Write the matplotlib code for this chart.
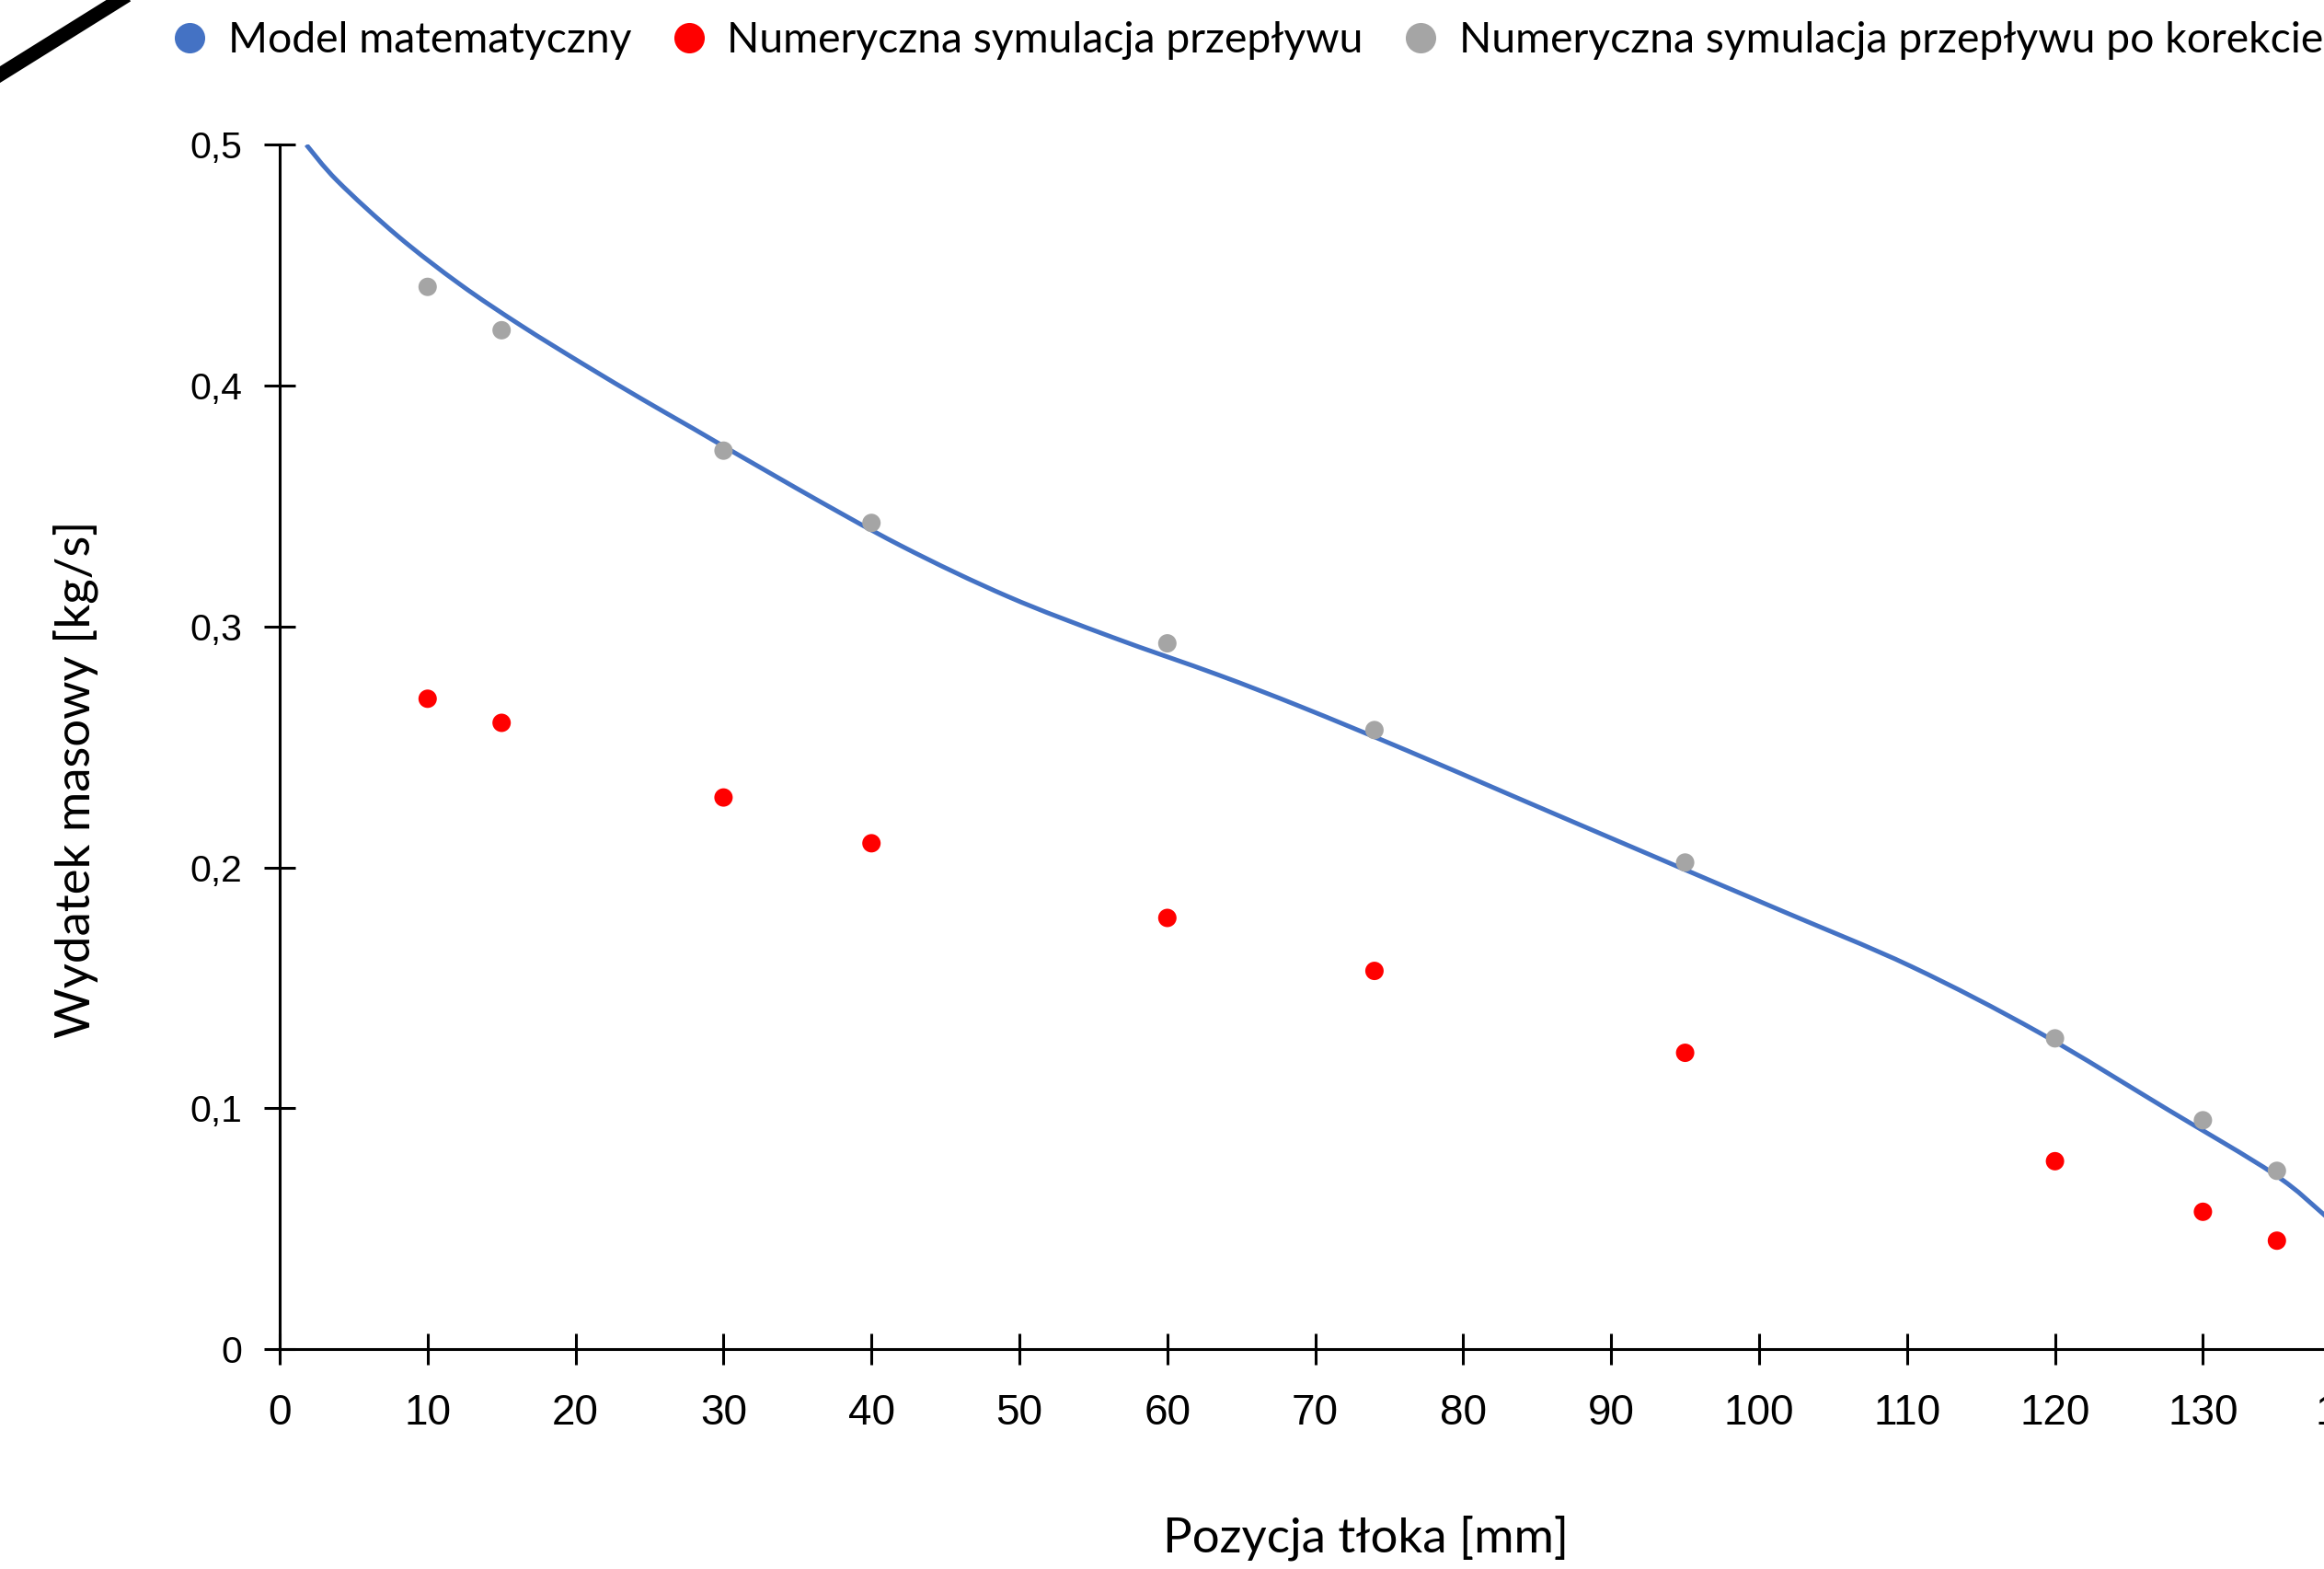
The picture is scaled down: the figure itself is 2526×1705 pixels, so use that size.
import matplotlib
matplotlib.use("Agg")
import matplotlib.pyplot as plt
from matplotlib.lines import Line2D
from matplotlib.path import Path
from matplotlib.patches import PathPatch

W, H, DPI = 2526, 1705, 100

# ---- data ----
model_x = [1.8, 3.9, 8.0, 12.2, 16.3, 20.5, 24.6, 28.0, 34.9, 42.0, 49.2, 56.3,
           63.4, 69.1, 76.2, 83.4, 90.5, 97.6, 101.7, 110.3, 118.9, 127.6, 134.8, 138.2, 139.5]
model_y = [0.500, 0.485, 0.462, 0.442, 0.425, 0.409, 0.394, 0.382, 0.3575, 0.3335, 0.3125, 0.2955,
           0.2800, 0.2665, 0.2485, 0.2295, 0.2108, 0.1922, 0.1815, 0.1588, 0.1315, 0.0995, 0.0727, 0.0557, 0.0485]

sim_x = [10, 15, 30, 40, 60, 74, 95, 120, 130, 135]
sim_y = [0.270, 0.260, 0.229, 0.210, 0.179, 0.157, 0.123, 0.078, 0.057, 0.045]
corr_y = [0.441, 0.423, 0.373, 0.343, 0.293, 0.257, 0.202, 0.129, 0.095, 0.074]

series_labels = ["Model matematyczny", "Numeryczna symulacja przepływu",
                 "Numeryczna symulacja przepływu po korekcie"]
xticks = [0, 10, 20, 30, 40, 50, 60, 70, 80, 90, 100, 110, 120, 130, 140]
yticks = [0, 0.1, 0.2, 0.3, 0.4, 0.5]
ytick_labels = ["0", "0,1", "0,2", "0,3", "0,4", "0,5"]
xlabel = "Pozycja tłoka [mm]"
ylabel = "Wydatek masowy [kg/s]"

BLUE, RED, GRAY = "#4472C4", "#FF0000", "#A5A5A5"
TXT_FONT = ["Lato", "DejaVu Sans"]
NUM_FONT = ["Liberation Sans", "DejaVu Sans"]


def smooth_path(xs, ys):
    """Smoothed (Catmull-Rom style) line through the read points, like a spreadsheet 'smoothed line'."""
    pts = list(zip(xs, ys))
    n = len(pts)
    verts = [pts[0]]
    codes = [Path.MOVETO]
    for i in range(n - 1):
        p0 = pts[i - 1] if i > 0 else pts[i]
        p1 = pts[i]
        p2 = pts[i + 1]
        p3 = pts[i + 2] if i + 2 < n else pts[i + 1]
        c1 = (p1[0] + (p2[0] - p0[0]) / 6.0, p1[1] + (p2[1] - p0[1]) / 6.0)
        c2 = (p2[0] - (p3[0] - p1[0]) / 6.0, p2[1] - (p3[1] - p1[1]) / 6.0)
        verts += [c1, c2, p2]
        codes += [Path.CURVE4, Path.CURVE4, Path.CURVE4]
    return Path(verts, codes)


fig = plt.figure(figsize=(W / DPI, H / DPI), dpi=DPI)
fig.patch.set_facecolor("white")

ax_left, ax_right_px = 304, 304 + 140 * 16.08
ax_bottom_px, ax_top_px = 1466, 157.3
ax = fig.add_axes([ax_left / W, 1 - ax_bottom_px / H,
                   (ax_right_px - ax_left) / W, (ax_bottom_px - ax_top_px) / H])
ax.set_xlim(0, 140)
ax.set_ylim(0, 0.5)

ax.add_patch(PathPatch(smooth_path(model_x, model_y), facecolor="none", edgecolor=BLUE,
                       lw=3.6, zorder=3, capstyle="butt"))
ax.scatter(sim_x, sim_y, s=207, color=RED, edgecolors="none", zorder=4)
ax.scatter(sim_x, corr_y, s=207, color=GRAY, edgecolors="none", zorder=4)

for side in ("top", "right"):
    ax.spines[side].set_visible(False)
for side in ("left", "bottom"):
    ax.spines[side].set_linewidth(2.2)
    ax.spines[side].set_color("black")

ax.set_xticks(xticks)
ax.set_xticklabels([str(v) for v in xticks], fontfamily=NUM_FONT, fontsize=33)
ax.set_yticks(yticks)
ax.set_yticklabels(ytick_labels, fontfamily=NUM_FONT, fontsize=29.5)
ax.tick_params(axis="both", direction="inout", length=24.5, width=2.2, color="black")
ax.tick_params(axis="x", pad=22)
ax.tick_params(axis="y", pad=17)

ax.set_xlabel(xlabel, fontfamily=TXT_FONT, fontsize=38, va="baseline")
ax.xaxis.set_label_coords(1485 / W, 1 - 1687 / H, transform=fig.transFigure)
ax.set_ylabel(ylabel, fontfamily=TXT_FONT, fontsize=38, va="center")
ax.yaxis.set_label_coords(82 / W, 1 - 847 / H, transform=fig.transFigure)

handles = [Line2D([], [], ls="none", marker="o", markersize=23.8, color=c, markeredgewidth=0)
           for c in (BLUE, RED, GRAY)]
fig.legend(handles, series_labels, ncol=3, frameon=False,
           loc="center left", bbox_to_anchor=(183 / W, 1 - 44 / H),
           prop={"family": TXT_FONT, "size": 33.3},
           handlelength=1.0, handletextpad=0.40, columnspacing=0.85,
           borderpad=0, borderaxespad=0)

# decorative diagonal stroke in the top-left corner
fig.add_artist(Line2D([-20 / W, 150 / W], [1 - 93.5 / H, 1 + 12.5 / H],
                      transform=fig.transFigure, color="black", lw=11))

fig.savefig("out.png", dpi=DPI, facecolor="white")
